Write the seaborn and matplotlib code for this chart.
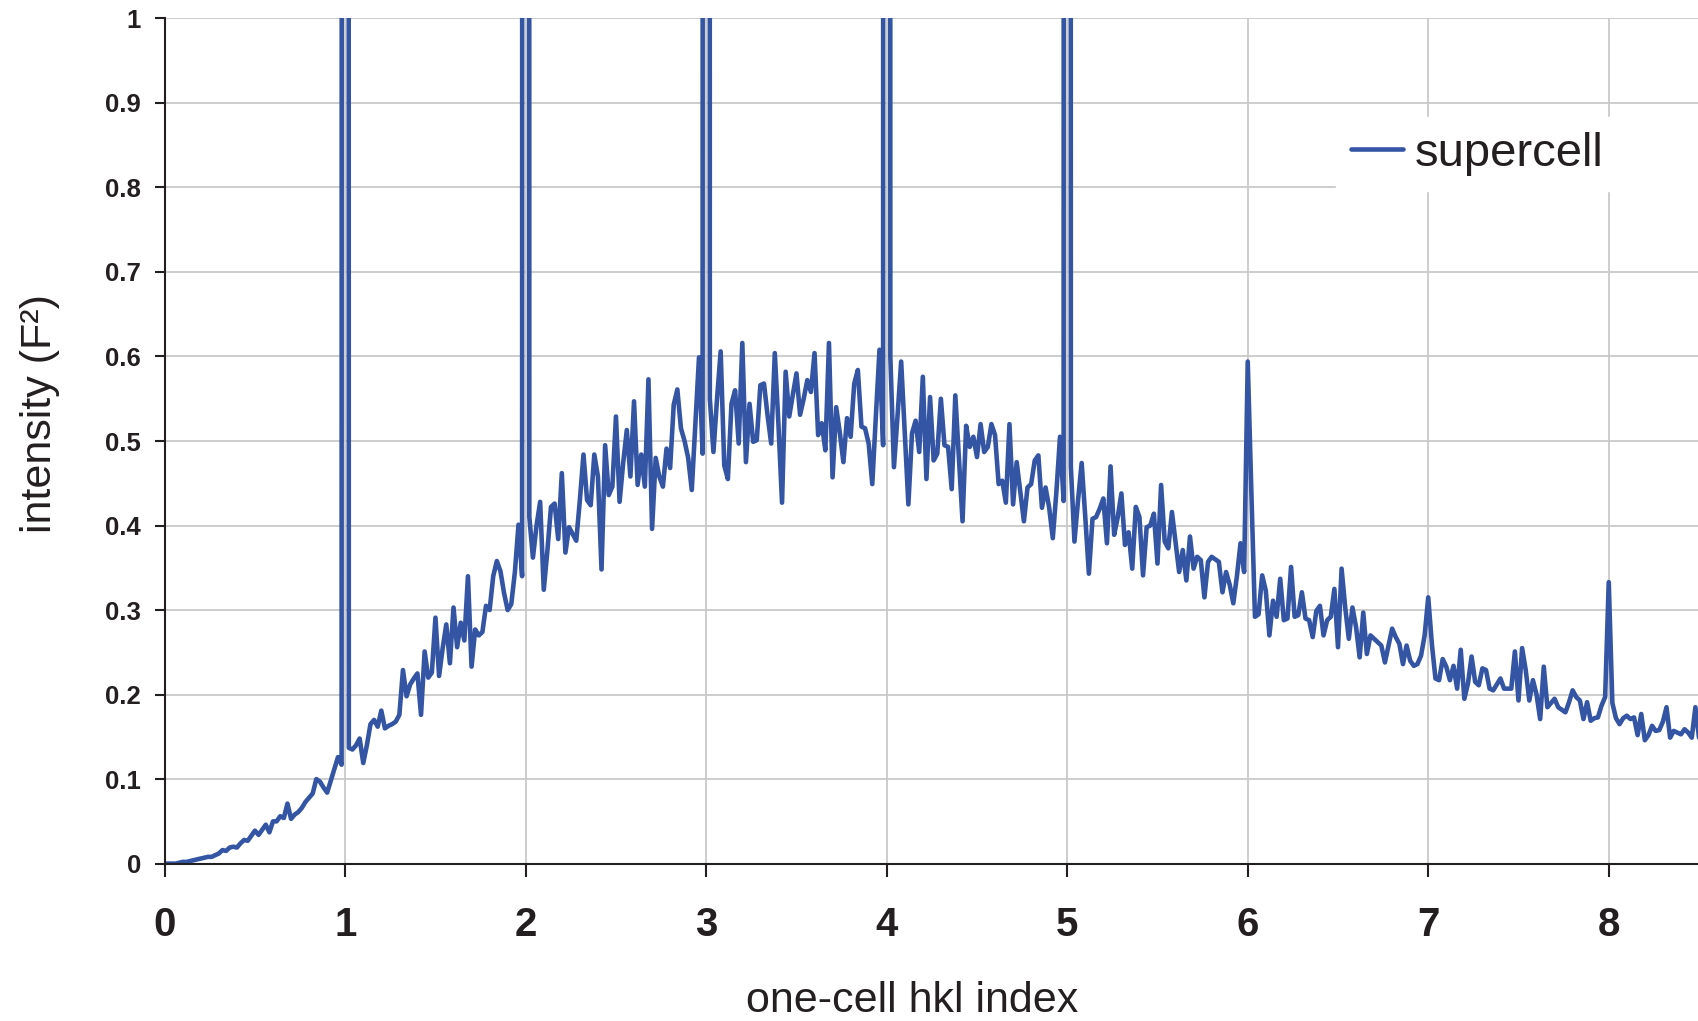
import numpy as np
import pandas as pd
import seaborn as sns
import matplotlib
matplotlib.use("Agg")
import matplotlib.pyplot as plt

# ---- data: intensity sampled every 0.02 of the one-cell hkl index ----
hkl_step = 0.02
y_0_1 = [0, 0, 0, 0, 0.001, 0.002, 0.002, 0.003, 0.004, 0.005,
         0.006, 0.007, 0.008, 0.008, 0.010, 0.012, 0.016, 0.015, 0.019, 0.020,
         0.019, 0.024, 0.028, 0.027, 0.033, 0.039, 0.034, 0.040, 0.046, 0.037,
         0.050, 0.050, 0.056, 0.054, 0.071, 0.053, 0.058, 0.061, 0.066, 0.073,
         0.078, 0.083, 0.100, 0.097, 0.090, 0.084, 0.098, 0.112, 0.126, 0.117]
y_1_2 = [30, 0.137, 0.135, 0.140, 0.148, 0.119, 0.140, 0.165, 0.170, 0.162,
         0.181, 0.160, 0.163, 0.165, 0.168, 0.176, 0.229, 0.198, 0.212, 0.219,
         0.225, 0.176, 0.251, 0.220, 0.226, 0.291, 0.222, 0.255, 0.283, 0.237,
         0.303, 0.256, 0.285, 0.264, 0.340, 0.233, 0.277, 0.270, 0.274, 0.305,
         0.300, 0.340, 0.358, 0.346, 0.320, 0.300, 0.307, 0.345, 0.401, 0.340]
y_2_3 = [30, 0.410, 0.362, 0.400, 0.428, 0.324, 0.370, 0.422, 0.426, 0.384,
         0.462, 0.368, 0.398, 0.390, 0.382, 0.430, 0.484, 0.430, 0.424, 0.484,
         0.458, 0.348, 0.495, 0.436, 0.446, 0.529, 0.428, 0.474, 0.513, 0.458,
         0.547, 0.448, 0.484, 0.446, 0.573, 0.396, 0.480, 0.458, 0.446, 0.491,
         0.468, 0.543, 0.561, 0.515, 0.500, 0.480, 0.442, 0.520, 0.599, 0.485]
y_3_4 = [30, 0.550, 0.487, 0.550, 0.606, 0.471, 0.455, 0.544, 0.560, 0.497,
         0.616, 0.475, 0.544, 0.499, 0.501, 0.566, 0.568, 0.530, 0.497, 0.604,
         0.520, 0.427, 0.582, 0.529, 0.555, 0.580, 0.531, 0.550, 0.572, 0.558,
         0.604, 0.507, 0.521, 0.489, 0.616, 0.457, 0.540, 0.510, 0.475, 0.527,
         0.505, 0.568, 0.584, 0.517, 0.515, 0.497, 0.449, 0.530, 0.608, 0.495]
y_4_5 = [30, 0.600, 0.469, 0.530, 0.594, 0.510, 0.425, 0.509, 0.524, 0.487,
         0.576, 0.455, 0.552, 0.477, 0.485, 0.550, 0.495, 0.493, 0.443, 0.554,
         0.480, 0.405, 0.518, 0.493, 0.505, 0.481, 0.520, 0.487, 0.493, 0.520,
         0.507, 0.449, 0.453, 0.427, 0.520, 0.425, 0.475, 0.440, 0.405, 0.445,
         0.449, 0.477, 0.483, 0.421, 0.445, 0.421, 0.385, 0.440, 0.505, 0.429]
y_5_6 = [30, 0.470, 0.381, 0.430, 0.474, 0.410, 0.343, 0.408, 0.410, 0.420,
         0.432, 0.379, 0.470, 0.389, 0.410, 0.438, 0.377, 0.392, 0.349, 0.422,
         0.410, 0.341, 0.398, 0.400, 0.414, 0.355, 0.448, 0.381, 0.373, 0.416,
         0.380, 0.345, 0.371, 0.335, 0.387, 0.349, 0.363, 0.359, 0.315, 0.357,
         0.363, 0.360, 0.357, 0.321, 0.345, 0.330, 0.308, 0.340, 0.379, 0.345]
y_6_7 = [0.594, 0.440, 0.292, 0.295, 0.341, 0.323, 0.270, 0.311, 0.292, 0.337,
         0.288, 0.290, 0.351, 0.292, 0.294, 0.321, 0.290, 0.288, 0.268, 0.299,
         0.305, 0.270, 0.288, 0.292, 0.325, 0.256, 0.349, 0.303, 0.266, 0.303,
         0.280, 0.244, 0.297, 0.248, 0.270, 0.266, 0.262, 0.258, 0.238, 0.258,
         0.278, 0.268, 0.260, 0.236, 0.258, 0.240, 0.234, 0.236, 0.246, 0.270]
y_7_8 = [0.315, 0.260, 0.219, 0.217, 0.242, 0.233, 0.217, 0.234, 0.207, 0.253,
         0.195, 0.213, 0.245, 0.215, 0.211, 0.231, 0.229, 0.207, 0.205, 0.212,
         0.219, 0.207, 0.207, 0.207, 0.251, 0.193, 0.255, 0.229, 0.193, 0.217,
         0.200, 0.171, 0.233, 0.185, 0.190, 0.195, 0.185, 0.182, 0.179, 0.191,
         0.205, 0.197, 0.193, 0.171, 0.191, 0.169, 0.172, 0.173, 0.187, 0.197]
y_8_end = [0.333, 0.190, 0.172, 0.165, 0.172, 0.175, 0.171, 0.173, 0.152, 0.177,
           0.146, 0.152, 0.163, 0.157, 0.158, 0.168, 0.185, 0.149, 0.157, 0.155,
           0.153, 0.159, 0.155, 0.149, 0.185, 0.149]

x_ticks = [0, 1, 2, 3, 4, 5, 6, 7, 8]
x_tick_labels = ["0", "1", "2", "3", "4", "5", "6", "7", "8"]
y_ticks = [0, 0.1, 0.2, 0.3, 0.4, 0.5, 0.6, 0.7, 0.8, 0.9, 1.0]
y_tick_labels = ["0", "0.1", "0.2", "0.3", "0.4", "0.5", "0.6", "0.7", "0.8", "0.9", "1"]
series_name = "supercell"

intensity = y_0_1 + y_1_2 + y_2_3 + y_3_4 + y_4_5 + y_5_6 + y_6_7 + y_7_8 + y_8_end
hkl = np.arange(len(intensity)) * hkl_step
df = pd.DataFrame({"hkl": hkl, "intensity": intensity})

# ---- style ----
sns.set_style("whitegrid")
plt.rcParams["font.family"] = ["Liberation Sans", "DejaVu Sans"]
ink = "#231f20"
line_color = "#3455a4"

fig = plt.figure(figsize=(16.99, 10.21), dpi=100)
ax = fig.add_axes([0.09694, 0.15416, 0.90306, 0.82782])

sns.lineplot(data=df, x="hkl", y="intensity", ax=ax, color=line_color,
             linewidth=3.3, label=series_name, solid_joinstyle="round")

ax.set_xlim(0, 8.5)
ax.set_ylim(0, 1)
ax.set_xticks(x_ticks)
ax.set_xticklabels(x_tick_labels)
ax.set_yticks(y_ticks)
ax.set_yticklabels(y_tick_labels)

ax.grid(True, color="#c9c9c9", linewidth=1.3)
ax.set_axisbelow(True)
for side in ["top", "right"]:
    ax.spines[side].set_visible(False)
for side in ["left", "bottom"]:
    ax.spines[side].set_color(ink)
    ax.spines[side].set_linewidth(1.5)

ax.tick_params(axis="x", bottom=True, direction="out", length=9.4, width=1.5,
               pad=21, labelsize=29, color=ink, labelcolor=ink)
ax.tick_params(axis="y", left=True, direction="out", length=7.2, width=1.5,
               pad=10, labelsize=18.5, color=ink, labelcolor=ink)
for t in ax.get_xticklabels() + ax.get_yticklabels():
    t.set_fontweight("bold")

ax.set_xlabel("one-cell hkl index", fontsize=31, color=ink)
ax.xaxis.set_label_coords(0.487, -0.139)
ax.set_ylabel("intensity (F²)", fontsize=31, color=ink)
ax.yaxis.set_label_coords(-0.068, 0.532)

leg = ax.legend(loc="center left",
                bbox_to_anchor=(1336 / 1699, 1 - 154 / 1021, 0.25, 0.0),
                bbox_transform=fig.transFigure, mode="expand",
                fontsize=34, frameon=True, fancybox=False, framealpha=1,
                facecolor="white", edgecolor="white",
                handlelength=1.1, handletextpad=0.25, borderpad=0.32,
                borderaxespad=0)
for t in leg.get_texts():
    t.set_color(ink)

fig.savefig("out.png", dpi=100)
